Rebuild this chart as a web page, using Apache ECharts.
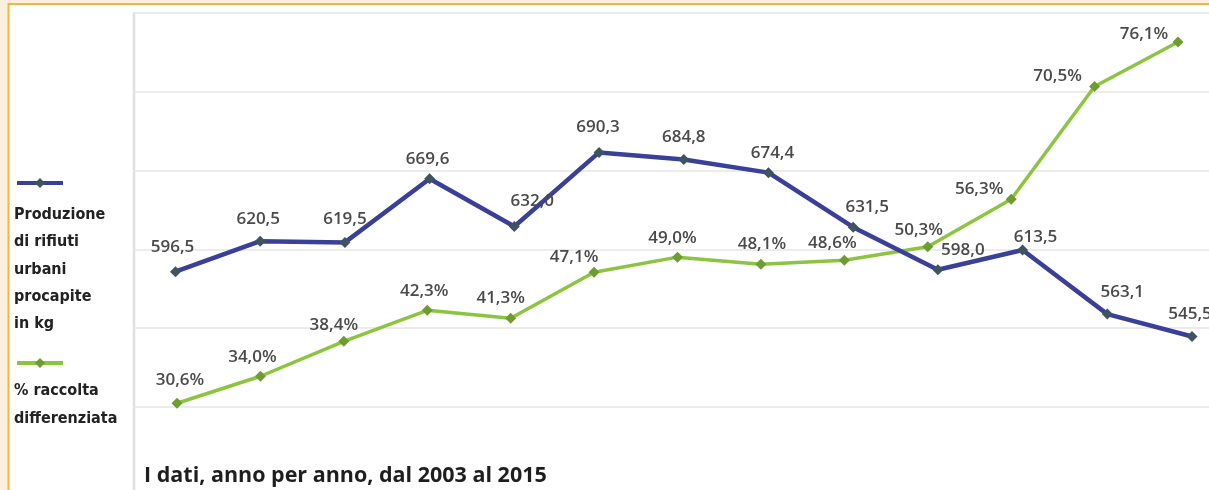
<!DOCTYPE html>
<html>
<head>
<meta charset="utf-8">
<script src="https://cdn.jsdelivr.net/npm/echarts@6/dist/echarts.min.js"></script>
<style>
html,body{margin:0;padding:0;background:#ffffff;}
#chart{width:1209px;height:490px;}
</style>
</head>
<body>
<div id="chart"></div>
<script>
const years = ['2003','2004','2005','2006','2007','2008','2009','2010','2011','2012','2013','2014','2015'];
const rifiuti = [596.5, 620.5, 619.5, 669.6, 632.0, 690.3, 684.8, 674.4, 631.5, 598.0, 613.5, 563.1, 545.5];
const raccolta = [30.6, 34.0, 38.4, 42.3, 41.3, 47.1, 49.0, 48.1, 48.6, 50.3, 56.3, 70.5, 76.1];
const legendRifiuti = ['Produzione', 'di rifiuti', 'urbani', 'procapite', 'in kg'];
const legendRaccolta = ['% raccolta', 'differenziata'];
const titleText = 'I dati, anno per anno, dal 2003 al 2015';

// label placement (style)
const blueOff = [[-3,-24],[-2,-22],[0,-23],[-2,-20],[18,-25],[-1,-25],[0,-22],[4,-19],[14,-20],[25,-20],[13,-13],[15,-22],[-2,-22]];
const greenOff = [[3,-23],[-8,-19],[-10,-16],[-3,-19],[-10,-20],[-20,-15],[-5,-19],[1,-20],[-12,-17],[-9,-17],[-32,-10],[-37,-10],[-34,-8]];

const BLUE = '#3a3f98', BLUE_M = '#3e5560';
const GREEN = '#8cc43f', GREEN_M = '#6e9c32';
const labelFont = {fontFamily:'Open Sans', fontSize:17, fontWeight:600, color:'#4a4a4a'};
const fmt = v => v.toFixed(1).replace('.', ',');

const chart = echarts.init(document.getElementById('chart'), null, {renderer:'canvas'});

const legendGraphics = [];
legendRifiuti.forEach((t,i)=>legendGraphics.push({type:'text', left:14, top:207+i*27.3, style:{text:t, font:'bold 16px "DejaVu Sans Condensed"', fill:'#222'}}));
legendRaccolta.forEach((t,i)=>legendGraphics.push({type:'text', left:14, top:383+i*28, style:{text:t, font:'bold 16px "DejaVu Sans Condensed"', fill:'#222'}}));

const option = {
  animation:false,
  backgroundColor:'#ffffff',
  grid:[
    {left:175.5, right:17, top:13, bottom:83},
    {left:177, right:31, top:11, bottom:82},
    {left:133, right:0, top:13, bottom:83}
  ],
  xAxis:[
    {type:'category', gridIndex:0, data:years, boundaryGap:false, show:false},
    {type:'category', gridIndex:1, data:years, boundaryGap:false, show:false},
    {type:'category', gridIndex:2, data:years, boundaryGap:true, show:false}
  ],
  yAxis:[
    {type:'value', gridIndex:0, min:490, max:800, show:false},
    {type:'value', gridIndex:1, min:30, max:80, show:false},
    {type:'value', gridIndex:2, min:0, max:5, interval:1, axisLabel:{show:false}, axisTick:{show:false}, axisLine:{show:false},
      splitLine:{show:true, lineStyle:{color:'#e6e6e6', width:1.5}}}
  ],
  graphic:[
    {type:'rect', shape:{x:0,y:0,width:8,height:490}, style:{fill:'#fcefdc'}, silent:true},
    {type:'rect', shape:{x:0,y:0,width:1209,height:3}, style:{fill:'#fcefdc'}, silent:true},
    {type:'line', shape:{x1:8.5,y1:3,x2:8.5,y2:490}, style:{stroke:'#f0b447', lineWidth:2}, silent:true},
    {type:'line', shape:{x1:8,y1:4,x2:1209,y2:4}, style:{stroke:'#f0b447', lineWidth:2}, silent:true},
    {type:'line', shape:{x1:134,y1:12,x2:134,y2:490}, style:{stroke:'#e0e0e0', lineWidth:2.5}, silent:true},
    {type:'line', shape:{x1:17,y1:183,x2:63,y2:183}, style:{stroke:BLUE, lineWidth:4}, silent:true},
    {type:'polygon', shape:{points:[[40,178],[45,183],[40,188],[35,183]]}, style:{fill:BLUE_M}, silent:true},
    {type:'line', shape:{x1:17,y1:363,x2:63,y2:363}, style:{stroke:GREEN, lineWidth:4}, silent:true},
    {type:'polygon', shape:{points:[[40,358],[45,363],[40,368],[35,363]]}, style:{fill:GREEN_M}, silent:true},
    ...legendGraphics,
    {type:'text', left:144, top:465, style:{text:titleText, font:'bold 21.5px "Open Sans"', fill:'#1e1e1e'}}
  ],
  series:[
    {
      type:'line', xAxisIndex:1, yAxisIndex:1, z:3,
      data: raccolta.map((v,i)=>({value:v, label:{offset:greenOff[i]}})),
      lineStyle:{color:GREEN, width:3.5},
      itemStyle:{color:GREEN_M},
      symbol:'diamond', symbolSize:11,
      label:{show:true, position:'inside', formatter:p=>fmt(p.value)+'%', ...labelFont}
    },
    {
      type:'line', xAxisIndex:0, yAxisIndex:0, z:4,
      data: rifiuti.map((v,i)=>({value:v, label:{offset:blueOff[i]}})),
      lineStyle:{color:BLUE, width:4.5},
      itemStyle:{color:BLUE_M},
      symbol:'diamond', symbolSize:11,
      label:{show:true, position:'inside', formatter:p=>fmt(p.value), ...labelFont}
    }
  ]
};
chart.setOption(option);
</script>
</body>
</html>
